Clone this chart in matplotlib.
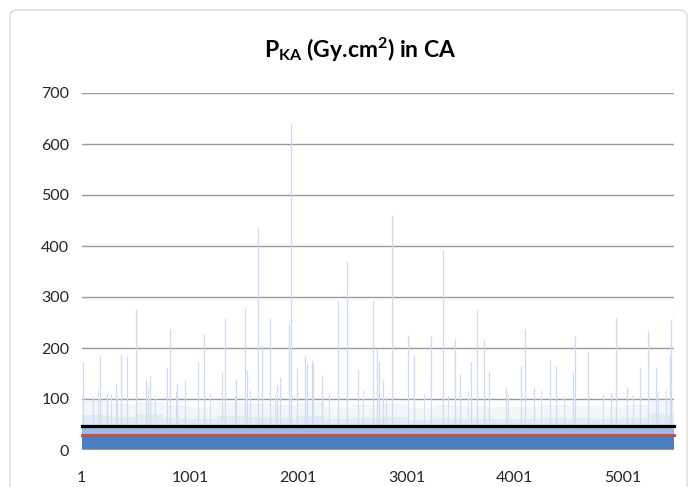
import numpy as np
import matplotlib.pyplot as plt
from matplotlib.patches import FancyBboxPatch

plt.rcParams['font.family'] = ['Lato', 'DejaVu Sans']
plt.rcParams['mathtext.fontset'] = 'custom'
plt.rcParams['mathtext.rm'] = 'Lato:bold'
plt.rcParams['mathtext.bf'] = 'Lato:bold'

# number of procedures on the category axis
n_cases = 5470

# tall isolated values (case index, P_KA)
spike_idx = [16, 108, 173, 232, 318, 368, 416, 506, 595, 631, 791, 818, 878,
             955, 1075, 1132, 1293, 1328, 1429, 1511, 1530, 1633, 1668, 1742,
             1802, 1832, 1918, 1929, 1986, 2060, 2078, 2130, 2137, 2217, 2363,
             2446, 2555, 2693, 2732, 2749, 2786, 2869, 3014, 3072, 3229, 3340,
             3444, 3494, 3598, 3655, 3715, 3762, 3916, 4053, 4091, 4177, 4322,
             4382, 4540, 4560, 4675, 4886, 4939, 5039, 5161, 5233, 5300, 5436,
             5440, 5468]
spike_val = [172, 105, 184, 111, 131, 188, 184, 277, 140, 145, 163, 238, 131,
             137, 173, 227, 152, 259, 140, 279, 157, 438, 206, 258,
             127, 144, 247, 640, 160, 185, 170, 176, 170, 147, 294,
             371, 157, 294, 198, 173, 137, 461, 225, 186, 224, 392,
             217, 150, 173, 274, 215, 154, 124, 164, 238, 124, 176,
             165, 152, 223, 193, 114, 258, 124, 163, 233, 163, 186,
             255, 281]

# medium values just above the 100 gridline
mid_idx = [150, 273, 329, 612, 680, 874, 1182, 1413, 1551, 1782, 2287, 2595,
           2810, 3164, 3380, 3564, 3934, 4241, 4457, 4811, 5088, 5319, 5400]
mid_val = [118, 110, 104, 122, 108, 115, 112, 106, 120, 110, 112, 118,
           105, 110, 108, 115, 110, 118, 105, 112, 108, 115, 120]

# envelope of the dense mass, one value per block of 250 cases
solid_top = [28, 28, 28, 28, 28, 28, 28, 28, 28, 28, 28,
             28, 28, 28, 28, 28, 28, 28, 28, 28, 28, 28]
mottled_top = [49, 48, 49, 48, 48, 49, 48, 48, 48, 48, 48,
               48, 48, 48, 48, 48, 48, 48, 48, 48, 48, 49]
inner_fuzz_top = [68, 64, 70, 63, 60, 66, 65, 62, 66, 60, 62,
                  64, 58, 63, 61, 60, 61, 63, 62, 60, 63, 70]
fuzz_top = [96, 90, 95, 88, 85, 92, 90, 88, 92, 85, 88,
            90, 82, 88, 86, 84, 85, 88, 86, 84, 88, 96]

black_level = 48
red_level = 29

x_ticks = [1, 1001, 2001, 3001, 4001, 5001]
y_ticks = [0, 100, 200, 300, 400, 500, 600, 700]

W, H = 694, 487
fig = plt.figure(figsize=(W / 100, H / 100), dpi=100)

# rounded chart border
border = FancyBboxPatch((10 / W, -0.2), 677 / W, 1.2 - 10 / H,
                        boxstyle="round,pad=0,rounding_size=0.012",
                        transform=fig.transFigure, fill=False,
                        edgecolor='#d6d6d6', linewidth=0.9)
fig.add_artist(border)

ax = fig.add_axes([81.7 / W, (H - 450) / H, (674 - 81.7) / W, (450 - 93) / H])
ax.set_xlim(0.5, n_cases + 0.5)
ax.set_ylim(0, 700)

for s in ax.spines.values():
    s.set_visible(False)
ax.set_yticks(y_ticks)
ax.yaxis.grid(True, color='#9a9a9a', linewidth=1.0)
ax.set_axisbelow(True)

blocks = list(range(1, n_cases + 1, 250))
edges = blocks + [n_cases + 0.5]


def band(top, color, z):
    ax.fill_between(edges, top + top[-1:], step='post', color=color,
                    linewidth=0, zorder=z)


band(fuzz_top, '#f2f6fb', 1.5)
band(inner_fuzz_top, '#e2eaf6', 1.6)
ax.vlines(mid_idx, 0, mid_val, color='#d6e0f1', linewidth=0.8, zorder=1.8)
ax.vlines(spike_idx, 0, spike_val, color='#cfdbf0', linewidth=0.9, zorder=1.8)
band(mottled_top, '#9fb9e0', 2)
band(solid_top, '#4a7ec2', 2.1)

ax.axhline(0, color='#a0a0a0', linewidth=1.2, zorder=2.2)

ax.hlines(black_level, 0.5, n_cases + 0.5, color='black', linewidth=2.3,
          zorder=4, clip_on=False, capstyle='projecting')
ax.hlines(red_level, 0.5, n_cases + 0.5, color='#c0504d', linewidth=2.1,
          zorder=4, clip_on=False, capstyle='projecting')

ax.set_xticks(x_ticks)
ax.set_xticklabels([str(t) for t in x_ticks])
ax.tick_params(axis='both', length=0, labelsize=11.5, colors='#262626')
ax.tick_params(axis='y', pad=9)
ax.tick_params(axis='x', pad=15)

fig.text(360 / W, 1 - 58.5 / H, r'$\mathregular{P_{KA}}$ (Gy.cm$\mathregular{^2}$) in CA',
         ha='center', va='baseline', fontsize=16.5, fontweight='bold',
         color='black')

fig.savefig('out.png', dpi=100)
